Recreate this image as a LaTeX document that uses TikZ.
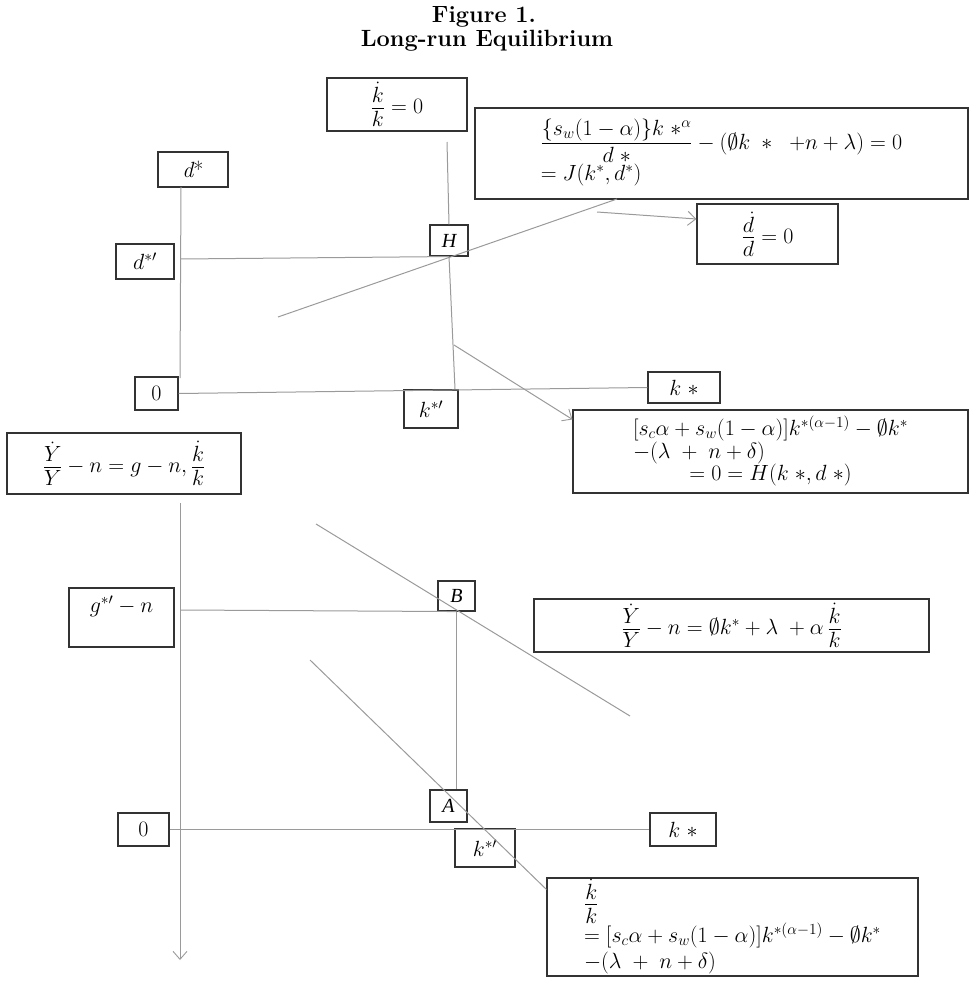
\RequirePackage{fix-cm}
\documentclass[tikz,border=0pt]{standalone}
\usepackage{amsmath,amssymb}
\usepackage{fontspec}
\newfontfamily\tnr{Liberation Serif}
\usetikzlibrary{arrows.meta,calc}
\definecolor{boxcol}{HTML}{333333}
\definecolor{linecol}{HTML}{9A9A9A}
\newcommand\eqsize{\fontsize{22}{26}\selectfont}
% compact display fractions (smaller numerator/denominator shifts)
\newcommand\fractune{\fontdimen8\textfont2=11pt\relax\fontdimen11\textfont2=12pt\relax}
\begin{document}
\begin{tikzpicture}[x=1pt,y=-1pt,
  box/.style={draw=boxcol, line width=1.1pt, inner sep=0pt, font=\eqsize},
  ptlabel/.style={box, font=\fontsize{20}{23}\selectfont\tnr\itshape},
  conn/.style={draw=linecol, line width=1pt},
  arr/.style={conn, -{Straight Barb[length=8pt,width=14pt,line width=0.9pt]}},
  titlefont/.style={font=\fontsize{23.5}{27}\selectfont\bfseries}
]
\useasboundingbox (0,0) rectangle (969,981);

% title
\node[titlefont] (title1) at (484,17) {Figure 1.};
\node[titlefont] (title2) at (487,41) {Long-run Equilibrium};

% ---------------- upper panel: (k*, d*) plane ----------------
\node[box, minimum width=140, minimum height=53] (kk) at (397,104.5)
  {$\fractune\dfrac{\dot k}{k}=0$};
\node[box, minimum width=493, minimum height=91] (J) at (721.5,153.5)
  {$\fractune\begin{array}{@{}l@{}}
    \dfrac{\{s_w(1-\alpha)\}k\;{\ast}^{\alpha}}{d\;\ast}-(\emptyset k\;\ast\;\;{+}n+\lambda)=0\\[1pt]
    =J(k^*,d^*)
   \end{array}$};
\node[box, minimum width=141, minimum height=60] (ddot) at (767.5,234)
  {$\fractune\dfrac{\dot d}{d}=0$};
\node[box, minimum width=70, minimum height=35] (dstar) at (193,169.5)
  {\itshape d\upshape*};
\node[box, minimum width=58, minimum height=35] (dprime) at (145,261.5)
  {$d^{*\prime}$};
\node[ptlabel, minimum width=38, minimum height=31] (H) at (449,240.5) {H};
\node[box, minimum width=43, minimum height=33] (zero1) at (156.5,393.5) {$0$};
\node[box, minimum width=72, minimum height=31] (kstar1) at (684,387.5) {$k\;\ast$};
\node[box, minimum width=54, minimum height=38] (kp1) at (431,409) {$k^{*\prime}$};
\node[box, minimum width=395, minimum height=83] (Hexpr) at (770.5,451.5)
  {\renewcommand\arraystretch{0.82}$\begin{array}{@{}l@{}}
    [s_c\alpha+s_w(1-\alpha)]k^{*(\alpha-1)}-\emptyset k^*\\
    -(\lambda\;+\;n+\delta)\\
    \multicolumn{1}{@{}c@{}}{=0=H(k\;\ast,d\;\ast)}
   \end{array}$};

\coordinate (axAtop) at (181,187);
\coordinate (axAbot) at (180,378);
\coordinate (dlev)   at (181,259);
\coordinate (vtop)   at (447,142);
\coordinate (vbot)   at (455,389);
\coordinate (Jfoot)  at (278,317);
\coordinate (Jtop)   at (617,199);
\coordinate (arrH)   at (454,345);
\coordinate (arrD)   at (597,212);

\draw[conn] (axAtop) -- (axAbot);
\draw[conn] (dlev) -- (H.south);
\draw[conn] (vtop) -- (H.north);
\draw[conn] (H.south) -- (vbot);
\draw[conn] (Jfoot) -- (Jtop);
\draw[conn] (zero1.east) -- (kstar1.west);
\draw[arr] (arrH) -- ([yshift=-10pt]Hexpr.north west);
\draw[arr] (arrD) -- ([yshift=15pt]ddot.west);

% ---------------- lower panel: growth rates ----------------
\node[box, minimum width=234, minimum height=61] (Ybox) at (124,463.5)
  {$\fractune\dfrac{\dot Y}{Y}-n=g-n,\dfrac{\dot k}{k}$};
\node[box, minimum width=105, minimum height=59, text height=16pt, text depth=27pt]
  (gbox) at (121.5,617.5) {$g^{*\prime}-n$};
\node[ptlabel, minimum width=37, minimum height=30] (B) at (456.5,596) {B};
\node[box, minimum width=395, minimum height=53] (Ydot) at (731.5,625.5)
  {$\fractune\dfrac{\dot Y}{Y}-n=\emptyset k^*+\lambda\;+\alpha\,\dfrac{\dot k}{k}$};
\node[ptlabel, minimum width=37, minimum height=32] (A) at (448.5,806) {A};
\node[box, minimum width=51, minimum height=33] (zero2) at (143.5,829.5) {$0$};
\node[box, minimum width=66, minimum height=33] (kstar2) at (683,829.5) {$k\;\ast$};
\node[box, minimum width=60, minimum height=38] (kp2) at (485,848) {$k^{*\prime}$};
\node[box, minimum width=371, minimum height=98] (kbox) at (732.5,927)
  {\renewcommand\arraystretch{0.82}$\fractune\begin{array}{@{}l@{}}
    \dfrac{\dot k}{k}\\[0pt]
    =[s_c\alpha+s_w(1-\alpha)]k^{*(\alpha-1)}-\emptyset k^*\\[3pt]
    -(\lambda\;+\;n+\delta)
   \end{array}$};

\coordinate (axBtop) at (180,503);
\coordinate (axBbot) at (180,960);
\coordinate (glev)   at (181,610);
\coordinate (l1a)    at (316,524);
\coordinate (l1b)    at (630,716);
\coordinate (l2a)    at (310,660);

\draw[arr] (axBtop) -- (axBbot);
\draw[conn] (glev) -- (B.south);
\draw[conn] (l1a) -- (l1b);
\draw[conn] (B.south) -- (B.south |- A.north);
\draw[conn] (l2a) -- ([yshift=-12pt]kbox.north west);
\draw[conn] (zero2.east) -- (kstar2.west);

\end{tikzpicture}
\end{document}
